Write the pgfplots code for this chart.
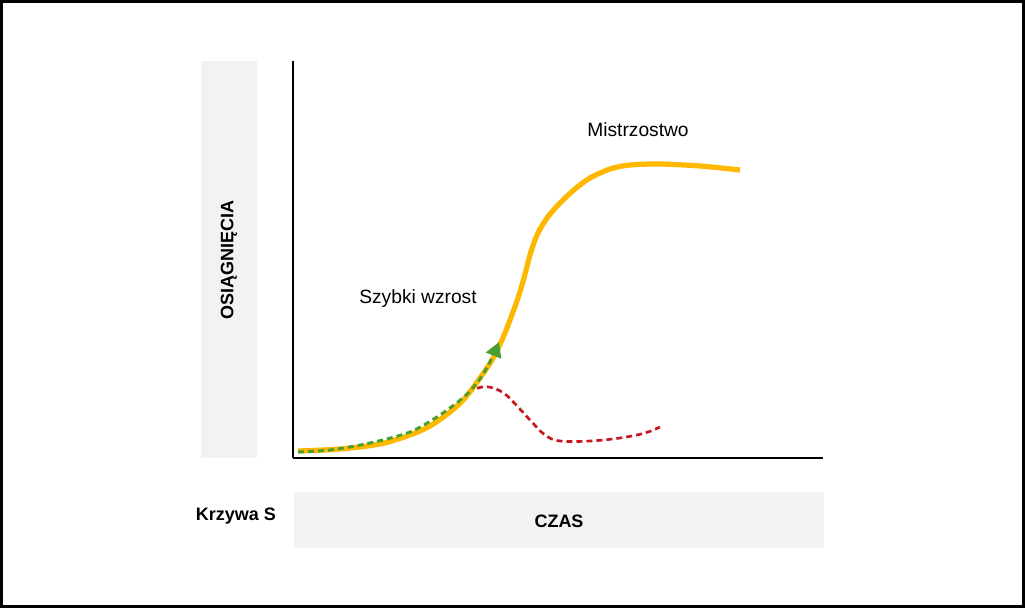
\documentclass[border=0pt]{standalone}
\usepackage{pgfplots}
\pgfplotsset{compat=1.18}
\usepackage{fontspec}
\setmainfont{Liberation Sans}
\usetikzlibrary{arrows.meta}
\definecolor{sy}{HTML}{FFB800}
\definecolor{sg}{HTML}{47A02E}
\definecolor{sr}{HTML}{C8161E}
\definecolor{box}{HTML}{F2F2F2}
\begin{document}
\begin{tikzpicture}[x=0.75pt,y=0.75pt]
\useasboundingbox (0,0) rectangle (1025,608);
\fill[white] (0,0) rectangle (1025,608);
\draw[line width=2.6pt] (1.5,1.5) rectangle (1023.3,606.5);
\fill[box] (201,150) rectangle (257,547);
\fill[box] (294,60) rectangle (824,116);
\node[rotate=90,font=\bfseries\fontsize{13.5}{16}\selectfont] at (229,348) {OSIĄGNIĘCIA};
\node[font=\bfseries\fontsize{13.5}{16}\selectfont] at (236,92) {Krzywa S};
\node[font=\bfseries\fontsize{13.5}{16}\selectfont] at (559,87) {CZAS};
\node[font=\fontsize{14.4}{17}\selectfont] at (638,478) {Mistrzostwo};
\node[font=\fontsize{14.4}{17}\selectfont] at (418,309) {Szybki wzrost};
\begin{axis}[
  at={(219.75pt,112.5pt)}, anchor=south west,
  width=397.5pt, height=297.75pt, scale only axis,
  xmin=293, xmax=823, ymin=150, ymax=547,
  axis x line=bottom, axis y line=left,
  axis line style={-, line width=2.2pt, black},
  xtick=\empty, ytick=\empty,
  clip=false,
]
\addplot[sr, line width=2pt, dash pattern=on 4.5pt off 3pt, smooth, tension=0.6] coordinates {
(462,207)(470,216)(482,221)(493,220)(505,214)(518,201)(530,188)(545,173)
(560,167)(590,167)(620,170)(645,175)(660,181)};
\addplot[sy, line width=3.9pt, smooth, tension=0.5] coordinates {
(298,157)(340,159)(380,164)(410,173)(430,182)(450,196)(465,210)(480,230)
(492,248)(502,268)(510,288)(518,310)(524,330)(530,353)(537,373)(547,390)
(560,405)(575,419)(590,430)(610,439)(630,443)(660,444)(700,442)(740,438)};
\addplot[sg, line width=2.2pt, dash pattern=on 4.5pt off 3pt, smooth, tension=0.5,
  -{Triangle[length=11pt,width=12pt]}] coordinates {
(298,156)(330,158)(370,165)(410,176)(440,193)(465,212)(480,229)(492,250)(499,266)};
\end{axis}
\end{tikzpicture}
\end{document}
